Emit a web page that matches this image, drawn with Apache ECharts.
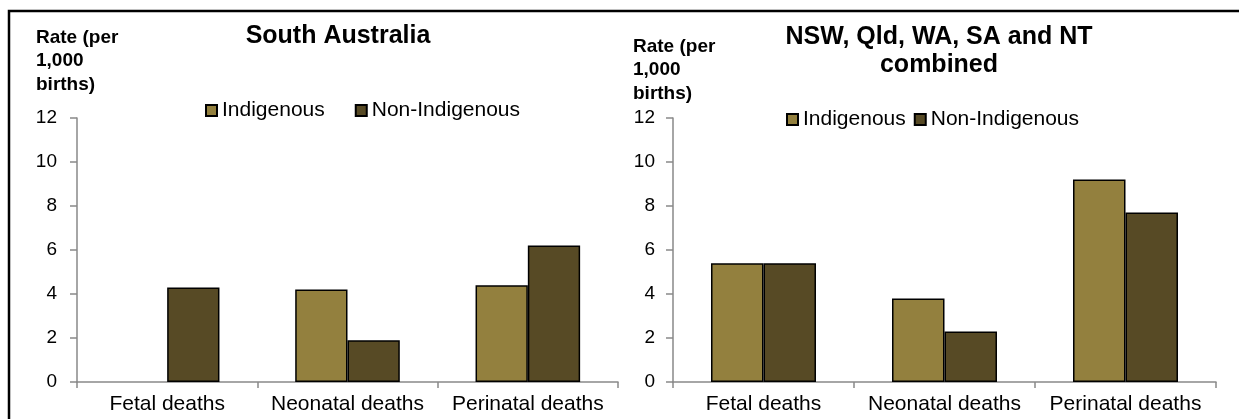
<!DOCTYPE html>
<html>
<head>
<meta charset="utf-8">
<script src="https://cdn.jsdelivr.net/npm/echarts@6/dist/echarts.min.js"></script>
<style>
html,body{margin:0;padding:0;background:#fff;}
#c{width:1239px;height:419px;}
</style>
</head>
<body>
<div id="c"></div>
<script>
const categories = ['Fetal deaths', 'Neonatal deaths', 'Perinatal deaths'];
const yTicks = [0, 2, 4, 6, 8, 10, 12];
const seriesNames = ['Indigenous', 'Non-Indigenous'];
const saIndigenous = [null, 4.2, 4.4];
const saNonIndigenous = [4.3, 1.9, 6.2];
const combIndigenous = [5.4, 3.8, 9.2];
const combNonIndigenous = [5.4, 2.3, 7.7];
const leftTitle = 'South Australia';
const rightTitle = 'NSW, Qld, WA, SA and NT\ncombined';
const yAxisName = 'Rate (per\n1,000\nbirths)';

const colIndig = '#93803E';
const colNon = '#574A25';
const FONT = '"Liberation Sans", Arial, sans-serif';

const chart = echarts.init(document.getElementById('c'), null, {renderer: 'canvas'});

function xAx(gi) {
  return {
    type: 'category', gridIndex: gi, data: categories,
    axisLine: {lineStyle: {color: '#898989', width: 1.5}},
    axisTick: {show: true, length: 6, lineStyle: {color: '#898989', width: 1.5}},
    axisLabel: {color: '#000', fontSize: 21, fontFamily: FONT, margin: 12, interval: 0}
  };
}
function yAx(gi, margin) {
  return {
    type: 'value', gridIndex: gi, min: yTicks[0], max: yTicks[yTicks.length - 1], interval: 2,
    splitLine: {show: false},
    axisLine: {show: true, lineStyle: {color: '#898989', width: 1.5}},
    axisTick: {show: true, length: 7, lineStyle: {color: '#898989', width: 1.5}},
    axisLabel: {color: '#000', fontSize: 19, fontFamily: FONT, margin: margin}
  };
}
function bar(name, data, color, gi) {
  return {
    name: name, type: 'bar', xAxisIndex: gi, yAxisIndex: gi, data: data,
    barGap: '0%', barCategoryGap: '42%',
    itemStyle: {color: color, borderColor: '#000', borderWidth: 1.5},
    silent: true
  };
}
const titleStyle = {fontSize: 25, fontWeight: 'bold', color: '#000', fontFamily: FONT, lineHeight: 28, align: 'center'};
const nameStyle = {fontSize: 19, fontWeight: 'bold', color: '#000', fontFamily: FONT, lineHeight: 23.5};
const legendText = {fontSize: 21, color: '#000', fontFamily: FONT};

const option = {
  animation: false,
  backgroundColor: '#fff',
  textStyle: {fontFamily: FONT},
  title: [
    {text: leftTitle, left: 338, top: 22, textAlign: 'center', padding: 0, textStyle: titleStyle},
    {text: rightTitle, left: 939, top: 23, textAlign: 'center', padding: 0, textStyle: titleStyle},
    {text: yAxisName, left: 36, top: 26, padding: 0, textStyle: nameStyle},
    {text: yAxisName, left: 633, top: 35, padding: 0, textStyle: nameStyle}
  ],
  legend: [
    {data: [seriesNames[0], seriesNames[1]], left: 205, top: 100, padding: 0,
     itemWidth: 11, itemHeight: 11, itemGap: 30,
     icon: 'rect', textStyle: legendText, selectedMode: false},
    {data: [seriesNames[0], seriesNames[1]], left: 786, top: 109, padding: 0,
     itemWidth: 11, itemHeight: 11, itemGap: 8,
     icon: 'rect', textStyle: legendText, selectedMode: false}
  ],
  grid: [
    {left: 77, top: 118, width: 541, height: 264},
    {left: 673, top: 118, width: 543, height: 264}
  ],
  xAxis: [xAx(0), xAx(1)],
  yAxis: [yAx(0, 20), yAx(1, 18)],
  series: [
    bar(seriesNames[0], saIndigenous, colIndig, 0),
    bar(seriesNames[1], saNonIndigenous, colNon, 0),
    bar(seriesNames[0], combIndigenous, colIndig, 1),
    bar(seriesNames[1], combNonIndigenous, colNon, 1)
  ],
  graphic: [
    {type: 'rect', shape: {x: 9, y: 11, width: 1400, height: 600},
     style: {fill: null, stroke: '#000', lineWidth: 2.5}, silent: true, z: 100}
  ]
};
chart.setOption(option);
</script>
</body>
</html>
